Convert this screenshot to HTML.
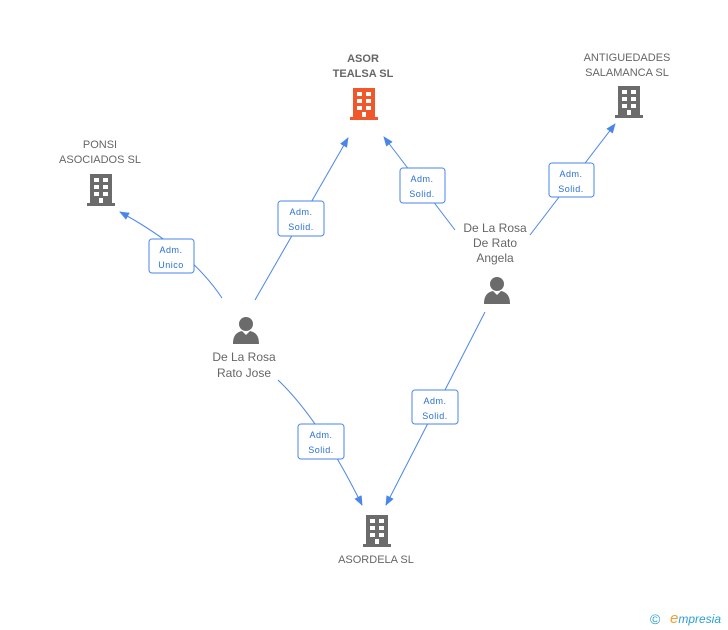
<!DOCTYPE html>
<html><head><style>
body{margin:0;background:#fff;}
svg{display:block;font-family:"Liberation Sans",sans-serif;}
.t{font-size:11px;fill:#666;text-anchor:middle;}
.l{font-size:9px;fill:#2a6fd6;text-anchor:middle;letter-spacing:0.5px;}
.b{fill:#fff;stroke:#4a86e8;stroke-width:1;}
.e{stroke:#4a86e8;stroke-width:1;fill:none;}
</style></head><body>
<svg width="728" height="630" viewBox="0 0 728 630">
<defs>
<marker id="a" markerWidth="10" markerHeight="10" refX="9" refY="5" orient="auto" markerUnits="userSpaceOnUse"><path d="M0,1 L10,5 L0,9 z" fill="#4a86e8"/></marker>
<g id="bld"><rect x="0" y="0" width="22" height="30"/><g fill="#fff"><rect x="4" y="4" width="5" height="4"/><rect x="13" y="4" width="5" height="4"/><rect x="4" y="11" width="5" height="4"/><rect x="13" y="11" width="5" height="4"/><rect x="4" y="18" width="5" height="4"/><rect x="13" y="18" width="5" height="4"/><rect x="9" y="24" width="4" height="6"/></g><rect x="-3" y="29" width="28" height="3"/></g>
<g id="per"><circle cx="13" cy="8" r="7"/><path d="M0,28 C0,18 5,16 9,15 L13,19 L17,15 C21,16 26,18 26,28 z"/></g>
</defs>
<path class="e" d="M255,300 L348,138" marker-end="url(#a)"/>
<path class="e" d="M222,298 Q190,250 120,212" marker-end="url(#a)"/>
<path class="e" d="M278,380 Q320,420 362,505" marker-end="url(#a)"/>
<path class="e" d="M455,230 L384,137" marker-end="url(#a)"/>
<path class="e" d="M530,235 L615,124" marker-end="url(#a)"/>
<path class="e" d="M485,312 L386,505" marker-end="url(#a)"/>
<g fill="#f0582b"><use href="#bld" x="353" y="88"/></g>
<g fill="#6b6b6b"><use href="#bld" x="90" y="174"/><use href="#bld" x="618" y="86"/><use href="#bld" x="366" y="515"/><use href="#per" x="233" y="316"/><use href="#per" x="484" y="276"/></g>
<text class="t" x="363" y="62" style="font-weight:bold">ASOR</text>
<text class="t" x="363" y="77" style="font-weight:bold">TEALSA SL</text>
<text class="t" x="100" y="148">PONSI</text><text class="t" x="100" y="163">ASOCIADOS SL</text>
<text class="t" x="627" y="61">ANTIGUEDADES</text><text class="t" x="627" y="76">SALAMANCA SL</text>
<text class="t" x="376" y="563">ASORDELA SL</text>
<text class="t" x="244" y="361" style="font-size:12px">De La Rosa</text><text class="t" x="244" y="377" style="font-size:12px">Rato Jose</text>
<text class="t" x="495" y="232" style="font-size:12px">De La Rosa</text><text class="t" x="495" y="247" style="font-size:12px">De Rato</text><text class="t" x="495" y="262" style="font-size:12px">Angela</text>
<g><rect class="b" x="278" y="201" width="46" height="35" rx="3"/><text class="l" x="301" y="215">Adm.</text><text class="l" x="301" y="230">Solid.</text></g>
<g><rect class="b" x="149" y="239" width="45" height="34" rx="3"/><text class="l" x="171" y="253">Adm.</text><text class="l" x="171" y="268">Unico</text></g>
<g><rect class="b" x="298" y="424" width="46" height="35" rx="3"/><text class="l" x="321" y="438">Adm.</text><text class="l" x="321" y="453">Solid.</text></g>
<g><rect class="b" x="400" y="168" width="45" height="35" rx="3"/><text class="l" x="422" y="182">Adm.</text><text class="l" x="422" y="197">Solid.</text></g>
<g><rect class="b" x="549" y="163" width="45" height="34" rx="3"/><text class="l" x="571" y="177">Adm.</text><text class="l" x="571" y="192">Solid.</text></g>
<g><rect class="b" x="412" y="390" width="46" height="34" rx="3"/><text class="l" x="435" y="404">Adm.</text><text class="l" x="435" y="419">Solid.</text></g>
<text x="650" y="624" style="font-size:14px;fill:#2a9fd6">©</text>
<text x="670" y="623" style="font-size:12px;fill:#2a9fd6;font-style:italic"><tspan fill="#f0a030" font-size="15">e</tspan>mpresia</text>
</svg>
</body></html>
